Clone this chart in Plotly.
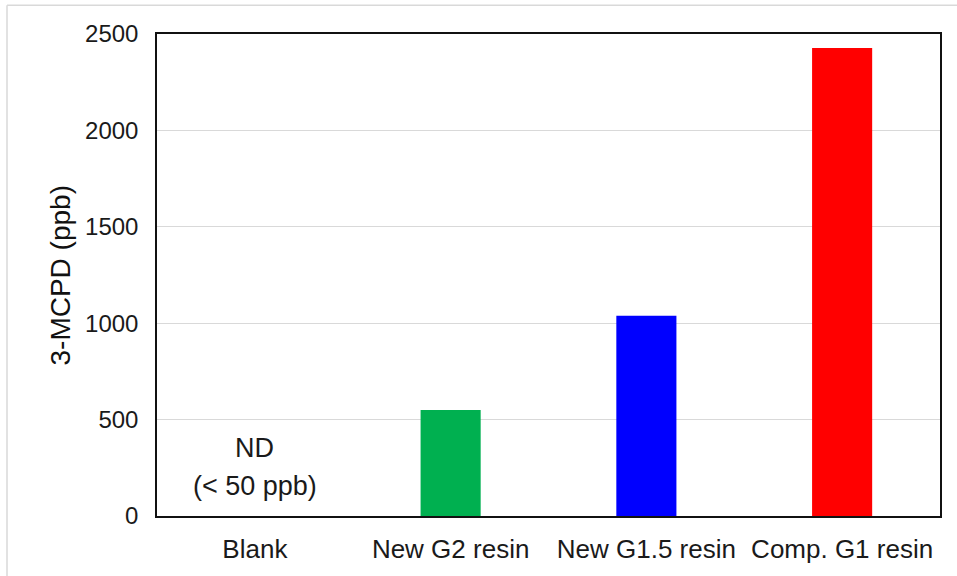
import plotly.graph_objects as go

# Data
categories = ["Blank", "New G2 resin", "New G1.5 resin", "Comp. G1 resin"]
mcpd_ppb = [None, 550, 1038, 2428]
bar_colors = ["#ffffff", "#00b050", "#0000ff", "#ff0000"]
y_ticks = [0, 500, 1000, 1500, 2000, 2500]
nd_lines = ["ND", "(< 50 ppb)"]
nd_line_y = [355, 155]

W, H = 957, 576
L, R, T, B = 157, 17, 34, 55
plot_w = W - L - R
plot_h = H - T - B

FONT = "Liberation Sans, Arial, sans-serif"
TXT = "#1a1a1a"

fig = go.Figure(
    go.Bar(
        x=categories,
        y=mcpd_ppb,
        marker=dict(color=bar_colors, line=dict(width=0)),
        hoverinfo="x+y",
    )
)

fig.update_layout(
    width=W,
    height=H,
    margin=dict(l=L, r=R, t=T, b=B, pad=0),
    paper_bgcolor="white",
    plot_bgcolor="white",
    bargap=0.693,
    showlegend=False,
    font=dict(family=FONT, size=24, color=TXT),
)

fig.update_yaxes(
    range=[0, 2500],
    tickvals=y_ticks,
    showgrid=True,
    gridcolor="#d9d9d9",
    gridwidth=1,
    zeroline=False,
    showline=True,
    linecolor="#111111",
    linewidth=1.5,
    mirror=True,
    ticks="",
    ticklabelstandoff=12,
    tickfont=dict(family=FONT, size=24, color=TXT),
)

fig.update_xaxes(
    showline=True,
    linecolor="#111111",
    linewidth=1.5,
    mirror=True,
    ticks="",
    ticklabelstandoff=9,
    tickfont=dict(family=FONT, size=26, color=TXT),
)

# Y-axis title
fig.add_annotation(
    text="3-MCPD (ppb)",
    xref="paper", yref="paper",
    x=(60 - L) / plot_w, y=(H - B - 278) / plot_h,
    xanchor="center", yanchor="middle",
    textangle=-90,
    showarrow=False,
    font=dict(family=FONT, size=28, color="#111111"),
)

# Not-detected note above the Blank category
for line, yv in zip(nd_lines, nd_line_y):
    fig.add_annotation(
        text=line,
        x=categories[0], y=yv,
        xref="x", yref="y",
        showarrow=False,
        font=dict(family=FONT, size=27, color=TXT),
    )

# Light chart-area border: left and top edges
left_x = (7 - L) / plot_w
top_y = (H - B - 5) / plot_h
border = dict(color="#d9d9d9", width=1.5)
fig.add_shape(type="line", xref="paper", yref="paper",
              x0=left_x, x1=left_x, y0=(H - B - H - 10) / plot_h, y1=top_y,
              line=border, layer="below")
fig.add_shape(type="line", xref="paper", yref="paper",
              x0=left_x, x1=(W + 10 - L) / plot_w, y0=top_y, y1=top_y,
              line=border, layer="below")

fig.write_html("out.html")
